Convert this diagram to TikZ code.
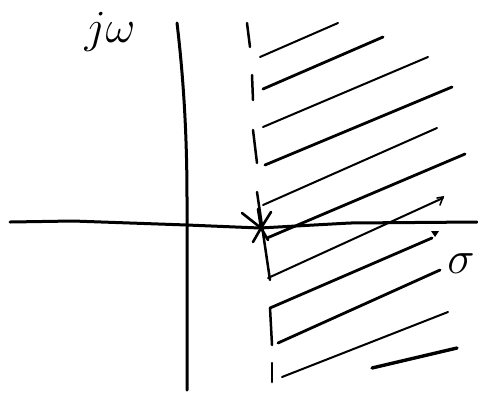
\documentclass[tikz,border=0pt]{standalone}
\begin{document}
\begin{tikzpicture}[x=1pt,y=-1pt,
  axisline/.style={line width=3pt,line cap=round,line join=round},
  bound/.style={line width=2.5pt,line cap=round},
  hatch/.style={line width=2.8pt,line cap=round},
  thinhatch/.style={line width=2pt,line cap=round},
  lbl/.style={inner sep=0pt,font=\Huge,scale=1.85}]
\useasboundingbox (0,0) rectangle (478,392);
% axes
\draw[axisline] (10,222) -- (73,221) -- (187,225) -- (260,228) -- (350,223) -- (477,222);
\draw[axisline] (177,23) .. controls (185,90) and (187,150) .. (187,200) -- (187,390);
% labels
\node[lbl] (jw) at (110,32) {$j\omega$};
\node[lbl] (sigma) at (461,264) {$\sigma$};
% boundary (dashed vertical)
\draw[bound] (247,23) -- (250,47);
\draw[bound] (252,75) -- (253,100);
\draw[bound] (253,130) -- (257,163);
\draw[bound] (257,192) -- (270,280);
\draw[bound] (270,308) -- (272,345);
\draw[bound] (272,363) -- (272,382);
% hatch lines
\draw[thinhatch] (260,57) -- (338,23);
\draw[hatch] (263,89) -- (383,37);
\draw[thinhatch] (263,127) -- (428,57);
\draw[hatch] (265,165) -- (452,87);
\draw[thinhatch] (263,205) -- (437,128);
\draw[hatch] (267,238) -- (465,154);
\draw[thinhatch] (268,278) -- (443,198);
\draw[line width=1.6pt,line cap=round] (437,198) -- (443,197) -- (440,205);
\draw[hatch] (270,308) -- (432,238);
\fill (431,231) -- (439,231) -- (435,237) -- cycle;
\draw[hatch] (278,343) -- (440,270);
\draw[thinhatch] (282,377) -- (448,312);
\draw[line width=3.4pt,line cap=round] (372,368) -- (457,348);
% pole
\coordinate (pole) at (261,228);
\draw[line width=2.6pt,line cap=round] (242,213) -- (pole) -- (271,212);
\draw[line width=2.6pt,line cap=round] (253,242) -- (pole) -- (268,240);
\draw[line width=2.6pt,line cap=round] (258,209) -- (pole);
\end{tikzpicture}
\end{document}
